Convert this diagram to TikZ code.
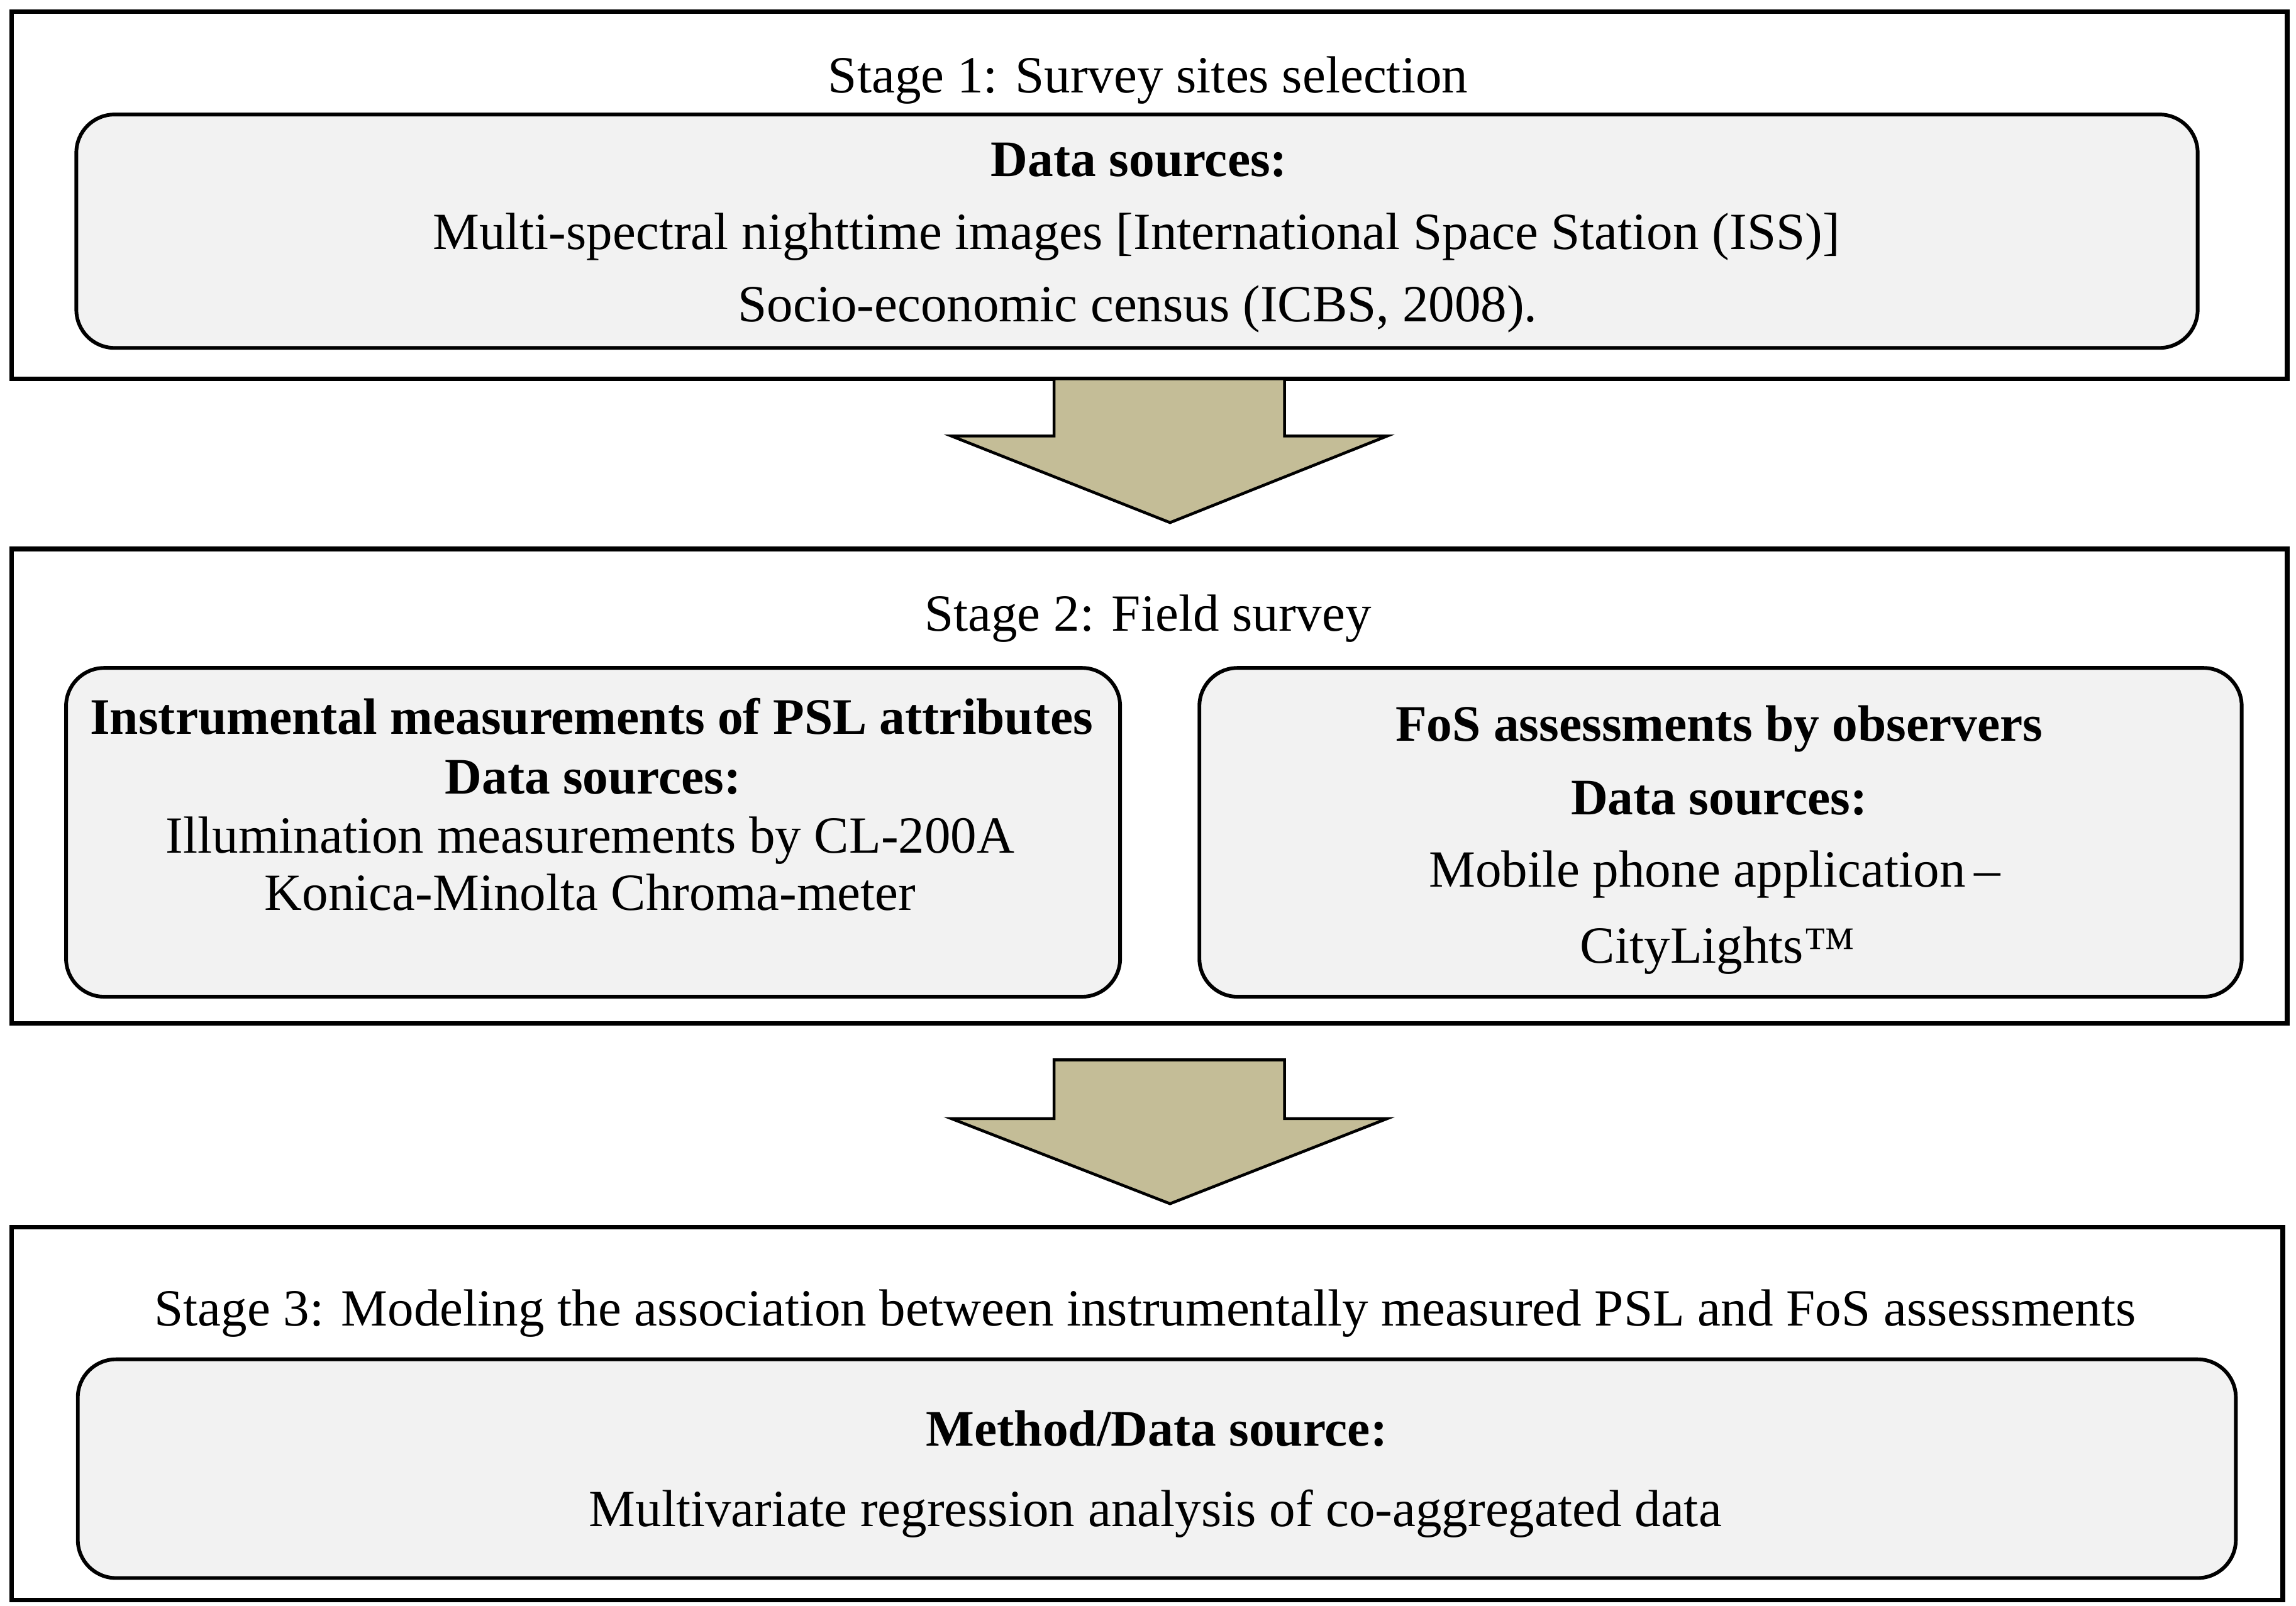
\documentclass[tikz,border=0pt]{standalone}
\usepackage{fontspec}
\setmainfont{Liberation Serif}
\usetikzlibrary{calc}
\definecolor{boxfill}{HTML}{F2F2F2}
\definecolor{arrowfill}{HTML}{C4BD97}
\begin{document}
\begin{tikzpicture}[x=0.025cm,y=-0.025cm,
  stage/.style={draw, line width=2.2pt, inner sep=0pt},
  inbox/.style={draw, fill=boxfill, rounded corners=0.65cm, line width=1.8pt},
  txt/.style={font=\fontsize{25.3}{30}\selectfont, inner sep=0pt, anchor=base},
  btxt/.style={txt, font=\fontsize{24.8}{30}\selectfont\bfseries},
  blockarrow/.style={draw, fill=arrowfill, line width=1.4pt, line join=miter}]
\useasboundingbox (0,0) rectangle (1564,1094);
% stage frames
\draw[stage] (8,8) rectangle (1558,258);
\coordinate (s1) at (783,258);
\draw[stage] (8,374) rectangle (1558,697);
\coordinate (s2) at (783,697);
\draw[stage] (8,836) rectangle (1555,1090);
% inner boxes
\draw[inbox] (52,78) rectangle (1497,237);
\draw[inbox] (45,455) rectangle (763,679);
\draw[inbox] (817,455) rectangle (1527,679);
\draw[inbox] (53,926) rectangle (1523,1075);
% texts
\node[txt] (t1) at (782,63) {Stage 1: Survey sites selection};
\node[btxt] (d1) at (776,120) {Data sources:};
\node[txt] (l11) at (774,170) {Multi-spectral nighttime images [International Space Station (ISS)]};
\node[txt] (l12) at (775,219) {Socio-economic census (ICBS, 2008).};
\node[txt] (t2) at (782,430) {Stage 2: Field survey};
\node[btxt] (a1) at (403,500) {Instrumental measurements of PSL attributes};
\node[btxt] (a2) at (404,541) {Data sources:};
\node[txt] (a3) at (402,581) {Illumination measurements by CL-200A};
\node[txt] (a4) at (402,620) {Konica-Minolta Chroma-meter};
\node[btxt] (b1) at (1171,505) {FoS assessments by observers};
\node[btxt] (b2) at (1171,555) {Data sources:};
\node[txt] (b3) at (1168,604) {Mobile phone application\,–};
\node[txt] (b4) at (1170,656) {CityLights™};
\node[txt] (t3) at (780,903) {Stage 3: Modeling the association between instrumentally measured PSL and FoS assessments};
\node[btxt] (m1) at (788,985) {Method/Data source:};
\node[txt] (m2) at (787,1040) {Multivariate regression analysis of co-aggregated data};
% block arrows
\draw[blockarrow] ($(s1)+(-65,0)$) -- ($(s1)+(92,0)$) -- ($(s1)+(92,39)$) -- ($(s1)+(162,39)$)
  -- ($(s1)+(14,98)$) -- ($(s1)+(-135,39)$) -- ($(s1)+(-65,39)$) -- cycle;
\draw[blockarrow] ($(s2)+(-65,25)$) -- ($(s2)+(92,25)$) -- ($(s2)+(92,65)$) -- ($(s2)+(162,65)$)
  -- ($(s2)+(14,123)$) -- ($(s2)+(-135,65)$) -- ($(s2)+(-65,65)$) -- cycle;
\end{tikzpicture}
\end{document}
